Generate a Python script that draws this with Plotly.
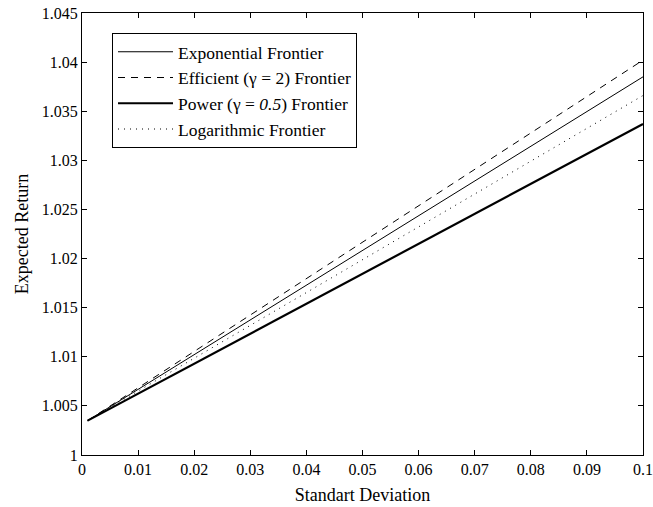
import plotly.graph_objects as go

sd = [0.001, 0.1]
exponential = [1.0035, 1.0385]
efficient = [1.0035, 1.0402]
power = [1.0035, 1.0337]
logarithmic = [1.0035, 1.0366]

x_ticks = [0, 0.01, 0.02, 0.03, 0.04, 0.05, 0.06, 0.07, 0.08, 0.09, 0.1]
x_labels = ["0", "0.01", "0.02", "0.03", "0.04", "0.05", "0.06", "0.07", "0.08", "0.09", "0.1"]
y_ticks = [1, 1.005, 1.01, 1.015, 1.02, 1.025, 1.03, 1.035, 1.04, 1.045]
y_labels = ["1", "1.005", "1.01", "1.015", "1.02", "1.025", "1.03", "1.035", "1.04", "1.045"]

names = ["Exponential Frontier", "Efficient (γ = 2) Frontier",
         "Power (γ = <i>0.5</i>) Frontier", "Logarithmic Frontier"]

fig = go.Figure()
fig.add_trace(go.Scatter(x=sd, y=exponential, mode="lines", name=names[0],
                         line=dict(color="black", width=1)))
fig.add_trace(go.Scatter(x=sd, y=efficient, mode="lines", name=names[1],
                         line=dict(color="black", width=1, dash="7px,6px")))
fig.add_trace(go.Scatter(x=sd, y=power, mode="lines", name=names[2],
                         line=dict(color="black", width=2.2)))
fig.add_trace(go.Scatter(x=sd, y=logarithmic, mode="lines", name=names[3],
                         line=dict(color="black", width=1, dash="1px,5px")))

serif = "Liberation Serif, Times New Roman, serif"

fig.update_layout(
    width=653, height=507,
    margin=dict(l=82, r=10, t=13, b=52, autoexpand=False),
    paper_bgcolor="white", plot_bgcolor="white",
    font=dict(family=serif, size=16, color="black"),
    showlegend=True,
    legend=dict(x=0.0535, y=0.955, xanchor="left", yanchor="top",
                bordercolor="black", borderwidth=1, bgcolor="white",
                font=dict(family=serif, size=17.5, color="black"),
                tracegroupgap=0, itemwidth=55),
)
fig.update_xaxes(range=[0, 0.1], tickvals=x_ticks, ticktext=x_labels,
                 showline=True, linecolor="black", linewidth=1, mirror="ticks",
                 ticks="inside", ticklen=5, tickcolor="black",
                 showgrid=False, zeroline=False, automargin=False,
                 title=dict(text="Standart Deviation", font=dict(size=18), standoff=11))
fig.update_yaxes(range=[1, 1.045], tickvals=y_ticks, ticktext=y_labels,
                 showline=True, linecolor="black", linewidth=1, mirror="ticks",
                 ticks="inside", ticklen=5, tickcolor="black",
                 showgrid=False, zeroline=False, automargin=False,
                 title=dict(text="Expected Return", font=dict(size=18), standoff=8))

fig.write_html("out.html", config={"displayModeBar": False})

with open("out.html", "r", encoding="utf-8") as f:
    html = f.read()
html = html.replace("<body>", '<body style="margin:0;padding:0;">', 1)
with open("out.html", "w", encoding="utf-8") as f:
    f.write(html)
